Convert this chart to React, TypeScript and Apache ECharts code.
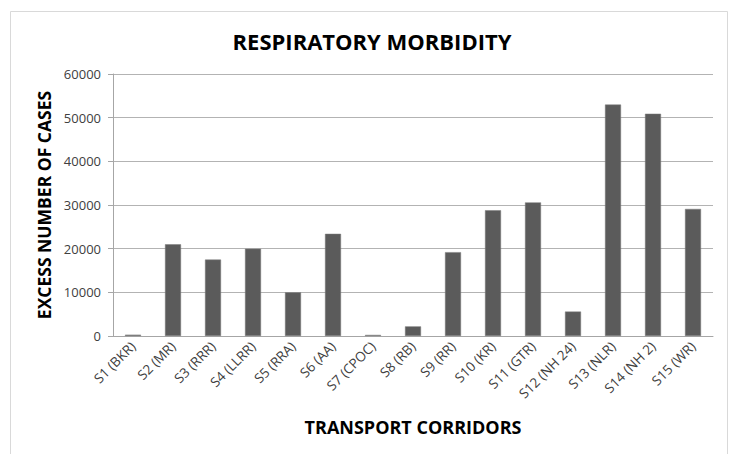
import React, { useEffect, useRef } from "react";
import * as echarts from "echarts";

const categories = [
  "S1 (BKR)", "S2 (MR)", "S3 (RRR)", "S4 (LLRR)", "S5 (RRA)", "S6 (AA)", "S7 (CPOC)", "S8 (RB)",
  "S9 (RR)", "S10 (KR)", "S11 (GTR)", "S12 (NH 24)", "S13 (NLR)", "S14 (NH 2)", "S15 (WR)",
];
const excessCases = [300, 21000, 17500, 20000, 10000, 23400, 250, 2200, 19200, 28800, 30600, 5600, 53000, 50900, 29100];
const yTicks = { min: 0, max: 60000, interval: 10000 };
const titleText = "RESPIRATORY MORBIDITY";
const yAxisTitle = "EXCESS NUMBER OF CASES";
const xAxisTitle = "TRANSPORT CORRIDORS";

export default function App() {
  const ref = useRef<HTMLDivElement>(null);
  useEffect(() => {
    if (!ref.current) return;
    const chart = echarts.init(ref.current, null, { renderer: "svg" });
    const font = "'Open Sans', 'Liberation Sans', sans-serif";
    chart.setOption({
      animation: false,
      backgroundColor: "#ffffff",
      title: {
        text: titleText,
        left: 367,
        textAlign: "center",
        top: 25,
        textStyle: { fontFamily: font, fontWeight: "bold", fontSize: 22, color: "#000" },
      },
      graphic: [
        {
          type: "rect",
          shape: { x: 10.5, y: 11.5, width: 717, height: 460 },
          style: { fill: "none", stroke: "#d9d9d9", lineWidth: 1 },
          silent: true,
          z: -1,
        },
      ],
      grid: { left: 113, right: 18, top: 74, bottom: 118, containLabel: false },
      xAxis: {
        type: "category",
        data: categories,
        name: xAxisTitle,
        nameLocation: "middle",
        nameGap: 82,
        nameTextStyle: { fontFamily: font, fontWeight: "bold", fontSize: 18, color: "#000" },
        axisLine: { show: true, lineStyle: { color: "#a6a6a6", width: 1 } },
        axisTick: { show: false },
        axisLabel: {
          rotate: 45,
          interval: 0,
          fontFamily: font,
          fontSize: 13.5,
          color: "#404040",
          margin: 8,
        },
      },
      yAxis: {
        type: "value",
        min: yTicks.min,
        max: yTicks.max,
        interval: yTicks.interval,
        name: yAxisTitle,
        nameLocation: "middle",
        nameGap: 60,
        nameRotate: 90,
        nameTextStyle: { fontFamily: font, fontWeight: "bold", fontSize: 17.5, color: "#000" },
        axisLine: { show: true, lineStyle: { color: "#a6a6a6", width: 1 } },
        axisTick: { show: true, length: 5, lineStyle: { color: "#a6a6a6" } },
        axisLabel: {
          fontFamily: font,
          fontSize: 13,
          color: "#404040",
          margin: 12,
          formatter: (v: number) => String(v),
        },
        splitLine: { show: true, lineStyle: { color: "#b3b3b3", width: 1 } },
      },
      series: [
        {
          type: "bar",
          data: excessCases,
          barWidth: "40%",
          itemStyle: { color: "#5b5b5b", borderColor: "#7a7a7a", borderWidth: 0.5 },
        },
      ],
    });
    return () => chart.dispose();
  }, []);
  return (
    <div
      ref={ref}
      style={{ position: "absolute", left: 0, top: 0, width: 731, height: 454 }}
    />
  );
}
